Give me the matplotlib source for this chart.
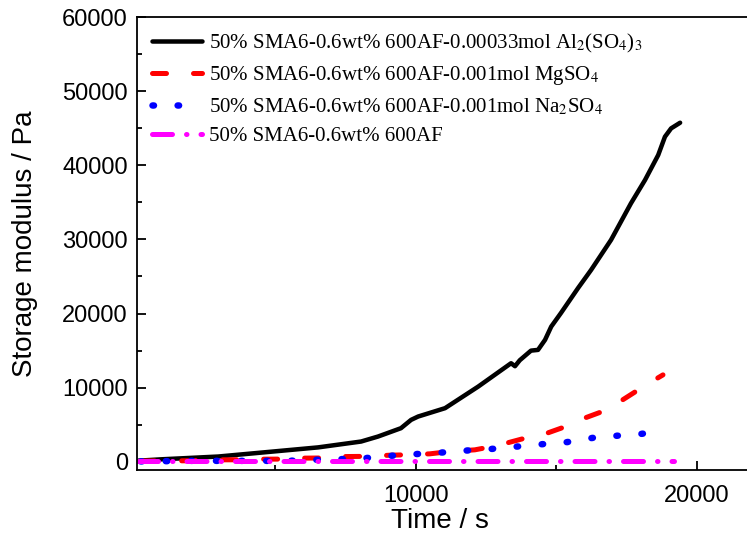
import matplotlib
matplotlib.use("Agg")
import matplotlib.pyplot as plt
from matplotlib.ticker import MultipleLocator

plt.rcParams["font.family"] = ["Liberation Sans", "DejaVu Sans"]
plt.rcParams["mathtext.fontset"] = "stix"
plt.rcParams["lines.scale_dashes"] = False

# storage modulus (Pa) vs time (s)
t_al = [100, 930, 2960, 4910, 6520, 8050, 8650, 9470, 9830, 10080, 11040, 12220,
        13390, 13530, 13700, 14100, 14350, 14600, 14820, 15170, 15780, 16240,
        16950, 17660, 18160, 18630, 18870, 19090, 19410]
g_al = [150, 340, 715, 1390, 1950, 2740, 3410, 4540, 5660, 6110, 7240, 10150,
        13300, 12900, 13700, 15000, 15100, 16450, 18240, 20090, 23460, 25880,
        29930, 34870, 38010, 41380, 43850, 44980, 45740]

t_mg = [200, 1200, 1800, 3000, 3700, 4500, 5200, 6000, 6600, 7500, 8200, 9100,
        9700, 10500, 11200, 12100, 12700, 13300, 14100, 14600, 15400, 16000,
        16800, 17400, 18200, 18800]
g_mg = [100, 135, 140, 270, 280, 360, 370, 500, 520, 715, 740, 900, 950, 1080,
        1390, 1620, 2050, 2600, 3410, 3770, 4850, 5890, 7010, 8450, 10380, 11730]

t_na = [200, 926, 1890, 2780, 3670, 4560, 5450, 6340, 7300, 8190, 9080, 9970,
        10900, 11790, 12720, 13600, 14530, 15380, 16310, 17090, 18020, 18910]
g_na = [60, 80, 135, 135, 135, 135, 135, 270, 360, 500, 810, 1040, 1250, 1520,
        1750, 2060, 2390, 2660, 3240, 3500, 3770, 4220]

t_af = [100, 5000, 10000, 15000, 19200]
g_af = [50, 50, 50, 50, 50]

labels = [
    "50% SMA6-0.6wt% 600AF-0.00033mol Al$_{2}$(SO$_{4}$)$_{3}$",
    "50% SMA6-0.6wt% 600AF-0.001mol MgSO$_{4}$",
    "50% SMA6-0.6wt% 600AF-0.001mol Na$_{2}$SO$_{4}$",
    "50% SMA6-0.6wt% 600AF",
]

PX = 0.72  # pixels -> points at dpi 100

fig = plt.figure(figsize=(7.47, 5.36), dpi=100)
ax = fig.add_axes([137 / 747, 66 / 536, 615 / 747, 453 / 536])

ax.plot(t_al, g_al, color="black", lw=4.5 * PX, solid_capstyle="round",
        solid_joinstyle="round", label=labels[0])
l2, = ax.plot(t_mg, g_mg, color="red", lw=5 * PX, dash_capstyle="round",
              label=labels[1])
l2.set_dashes((14 * PX, 27 * PX))
l3, = ax.plot(t_na, g_na, color="blue", lw=6.5 * PX, dash_capstyle="round",
              label=labels[2])
l3.set_dashes((1.5 * PX, 23.6 * PX))
l4, = ax.plot(t_af, g_af, color="magenta", lw=5 * PX, dash_capstyle="round",
              label=labels[3])
l4.set_dashes((20 * PX, 14 * PX, 0.5 * PX, 14 * PX))

ax.set_xlim(70, 21970)
ax.set_ylim(-1100, 60000)
ax.xaxis.set_major_locator(MultipleLocator(10000))
ax.xaxis.set_minor_locator(MultipleLocator(5000))
ax.yaxis.set_major_locator(MultipleLocator(10000))
ax.yaxis.set_minor_locator(MultipleLocator(5000))

ax.tick_params(which="both", direction="in", width=1.3, labelsize=17)
ax.tick_params(which="major", length=6.5)
ax.tick_params(which="minor", length=3.5)
ax.tick_params(axis="x", pad=11)
ax.tick_params(axis="y", pad=6.5)
ax.tick_params(top=False, right=False, which="both")

for side in ("left", "bottom", "top"):
    ax.spines[side].set_linewidth(1.3)
ax.spines["right"].set_visible(False)

ax.set_xlabel("Time / s", fontsize=20)
ax.set_ylabel("Storage modulus / Pa", fontsize=20)
ax.xaxis.set_label_coords(0.493, -0.083)
ax.yaxis.set_label_coords(-0.161, 0.5)

leg = ax.legend(loc="upper left", bbox_to_anchor=(0.0244, 0.968), frameon=False,
                borderpad=0, borderaxespad=0, handlelength=2.4,
                handletextpad=0.35, labelspacing=0.45,
                prop={"family": "Liberation Serif", "size": 15})

fig.savefig("out.png", dpi=100)
